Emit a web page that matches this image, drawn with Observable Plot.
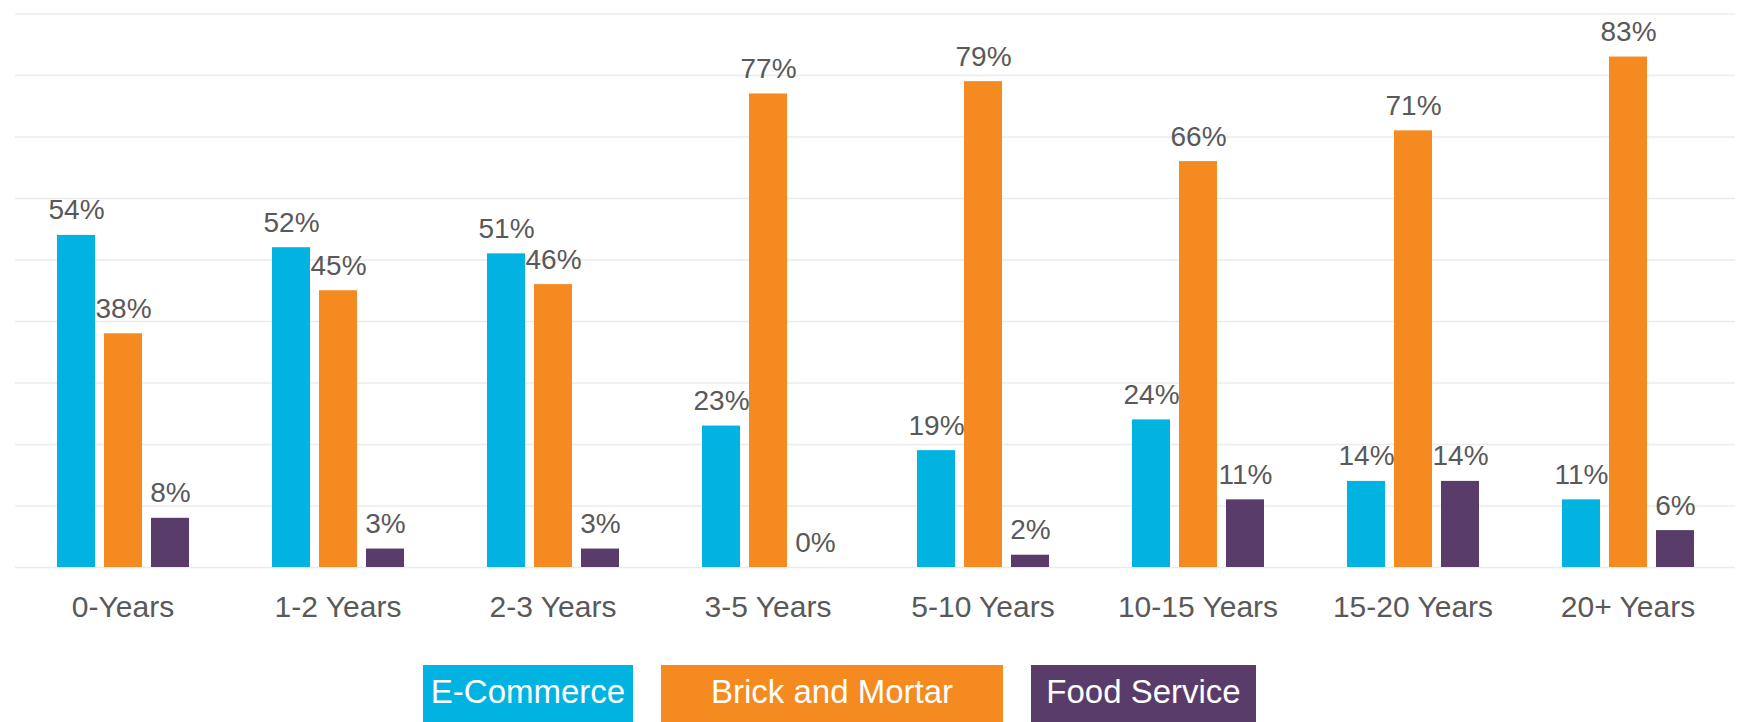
<!DOCTYPE html>
<html>
<head>
<meta charset="utf-8">
<script src="https://cdn.jsdelivr.net/npm/d3@7"></script>
<script src="https://cdn.jsdelivr.net/npm/@observablehq/plot@0.6"></script>
<style>
  html, body { margin: 0; padding: 0; background: #fff; overflow: hidden; width: 1741px; height: 722px; }
  #chart svg { display: block; }
  #legend { position: absolute; left: 423px; top: 665px; display: flex; gap: 28px; font-family: "Liberation Sans", Arial, sans-serif; }
  #legend .item { height: 70px; color: #fff; font-size: 33px; display: flex; justify-content: center; padding-top: 8px; box-sizing: border-box; }
</style>
</head>
<body>
<div id="chart"></div>
<div id="legend"></div>
<script>
const categories = ["0-Years", "1-2 Years", "2-3 Years", "3-5 Years", "5-10 Years", "10-15 Years", "15-20 Years", "20+ Years"];
const series = ["E-Commerce", "Brick and Mortar", "Food Service"];
const eCommerce = [54, 52, 51, 23, 19, 24, 14, 11];
const brickAndMortar = [38, 45, 46, 77, 79, 66, 71, 83];
const foodService = [8, 3, 3, 0, 2, 11, 14, 6];
const colors = ["#00B3E1", "#F58A21", "#5A3C6B"];
const gridTicks = [0, 10, 20, 30, 40, 50, 60, 70, 80, 90];

const seriesValues = [eCommerce, brickAndMortar, foodService];
const rows = categories.flatMap((c, i) => series.map((s, j) => ({cat: c, series: s, value: seriesValues[j][i]})));

const chart = Plot.plot({
  width: 1741,
  height: 660,
  marginTop: 13.5,
  marginBottom: 93,
  marginLeft: 13,
  marginRight: 4,
  style: {fontFamily: "'Liberation Sans', Arial, sans-serif", background: "white"},
  fx: {domain: categories, paddingInner: 0, paddingOuter: 0},
  x: {domain: series, paddingInner: 0.2, paddingOuter: 0.87, axis: null},
  y: {domain: [0, 90], axis: null},
  color: {domain: series, range: colors},
  marks: [
    Plot.gridY(gridTicks, {stroke: "#ebebeb", strokeOpacity: 1, strokeWidth: 1.5}),
    Plot.barY(rows, {fx: "cat", x: "series", y: "value", fill: "series"}),
    Plot.text(rows, {fx: "cat", x: "series", y: "value", text: d => d.value + "%", lineAnchor: "bottom", dy: -16, fontSize: 28, fill: "#595959"}),
    Plot.axisFx({anchor: "bottom", tickSize: 0, tickPadding: 28, fontSize: 30, color: "#595959", label: null})
  ]
});
document.getElementById("chart").appendChild(chart);

const legendWidths = [210, 342, 225];
const legend = d3.select("#legend");
series.forEach((s, i) => {
  legend.append("div").attr("class", "item")
    .style("background", colors[i])
    .style("width", legendWidths[i] + "px")
    .text(s);
});
</script>
</body>
</html>
